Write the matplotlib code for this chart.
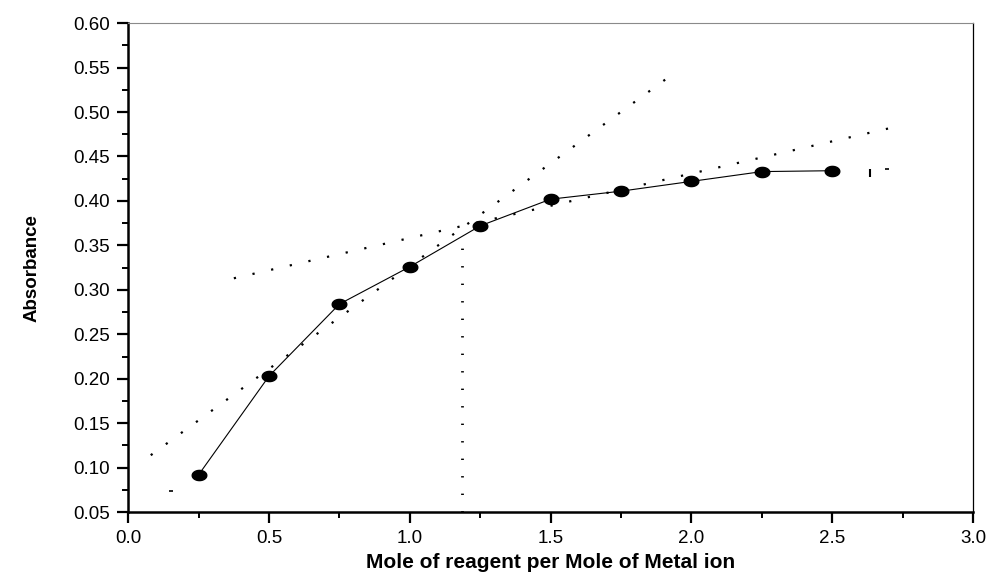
import numpy as np
import matplotlib.pyplot as plt
from matplotlib.path import Path
from matplotlib.ticker import MultipleLocator

plt.rcParams['font.family'] = ['Liberation Sans', 'DejaVu Sans']

# measured points
mole_ratio = [0.25, 0.5, 0.75, 1.0, 1.25, 1.5, 1.75, 2.0, 2.25, 2.5]
absorbance = [0.092, 0.203, 0.284, 0.326, 0.372, 0.402, 0.411, 0.422, 0.433, 0.434]

# tangent lines (end points) and the break point
steep_x = [0.08, 1.935]
steep_y = [0.114, 0.543]
flat_x = [0.375, 2.72]
flat_y = [0.313, 0.483]
break_x = [1.185, 1.185]
break_y = [0.05, 0.362]

# stray marks left on the original plot
stray_dash_x = [0.153, 2.694]
stray_dash_y = [0.074, 0.436]
stray_bar_x = [2.634]
stray_bar_y = [0.431]

# ellipse marker
t = np.linspace(0, 2 * np.pi, 60)
ellipse = Path(np.column_stack([np.cos(t), 0.7 * np.sin(t)]), closed=True)

fig = plt.figure(figsize=(9.94, 5.78), dpi=100)
ax = fig.add_axes([0.129, 0.114, 0.85, 0.846])

ax.plot(steep_x, steep_y, color='black', lw=1.6, linestyle=(0, (1, 7.4)),
        dash_capstyle='butt')
ax.plot(flat_x, flat_y, color='black', lw=1.6, linestyle=(0, (1, 7.6)),
        dash_capstyle='butt')
ax.plot(break_x, break_y, color='black', lw=2.0, linestyle=(0, (0.5, 5.8)),
        dash_capstyle='butt')

ax.plot(mole_ratio, absorbance, color='black', lw=0.8, marker=ellipse,
        markersize=10.5, markerfacecolor='black', markeredgecolor='black')

ax.plot(stray_dash_x, stray_dash_y, linestyle='none', marker='_',
        markersize=3, mew=1.2, color='black')
ax.plot(stray_bar_x, stray_bar_y, linestyle='none', marker='|',
        markersize=6, mew=1.5, color='black')

ax.set_xlim(0.0, 3.0)
ax.set_ylim(0.05, 0.60)
ax.xaxis.set_major_locator(MultipleLocator(0.5))
ax.xaxis.set_minor_locator(MultipleLocator(0.25))
ax.yaxis.set_major_locator(MultipleLocator(0.05))
ax.yaxis.set_minor_locator(MultipleLocator(0.025))
ax.xaxis.set_major_formatter(plt.FormatStrFormatter('%.1f'))
ax.yaxis.set_major_formatter(plt.FormatStrFormatter('%.2f'))

ax.tick_params(which='major', direction='out', length=8, width=1.6,
               labelsize=13.5, pad=5, top=False, right=False)
ax.tick_params(which='minor', direction='out', length=4.5, width=1.4,
               top=False, right=False)

for s in ['left', 'bottom']:
    ax.spines[s].set_linewidth(1.8)
ax.spines['top'].set_linewidth(0.8)
ax.spines['top'].set_color('#8a8a8a')
ax.spines['right'].set_linewidth(0.9)

ax.set_xlabel('Mole of reagent per Mole of Metal ion', fontsize=15,
              fontweight='bold', labelpad=4)
ax.set_ylabel('Absorbance', fontsize=13.5, fontweight='bold', labelpad=24)

fig.savefig('out.png', dpi=100)
